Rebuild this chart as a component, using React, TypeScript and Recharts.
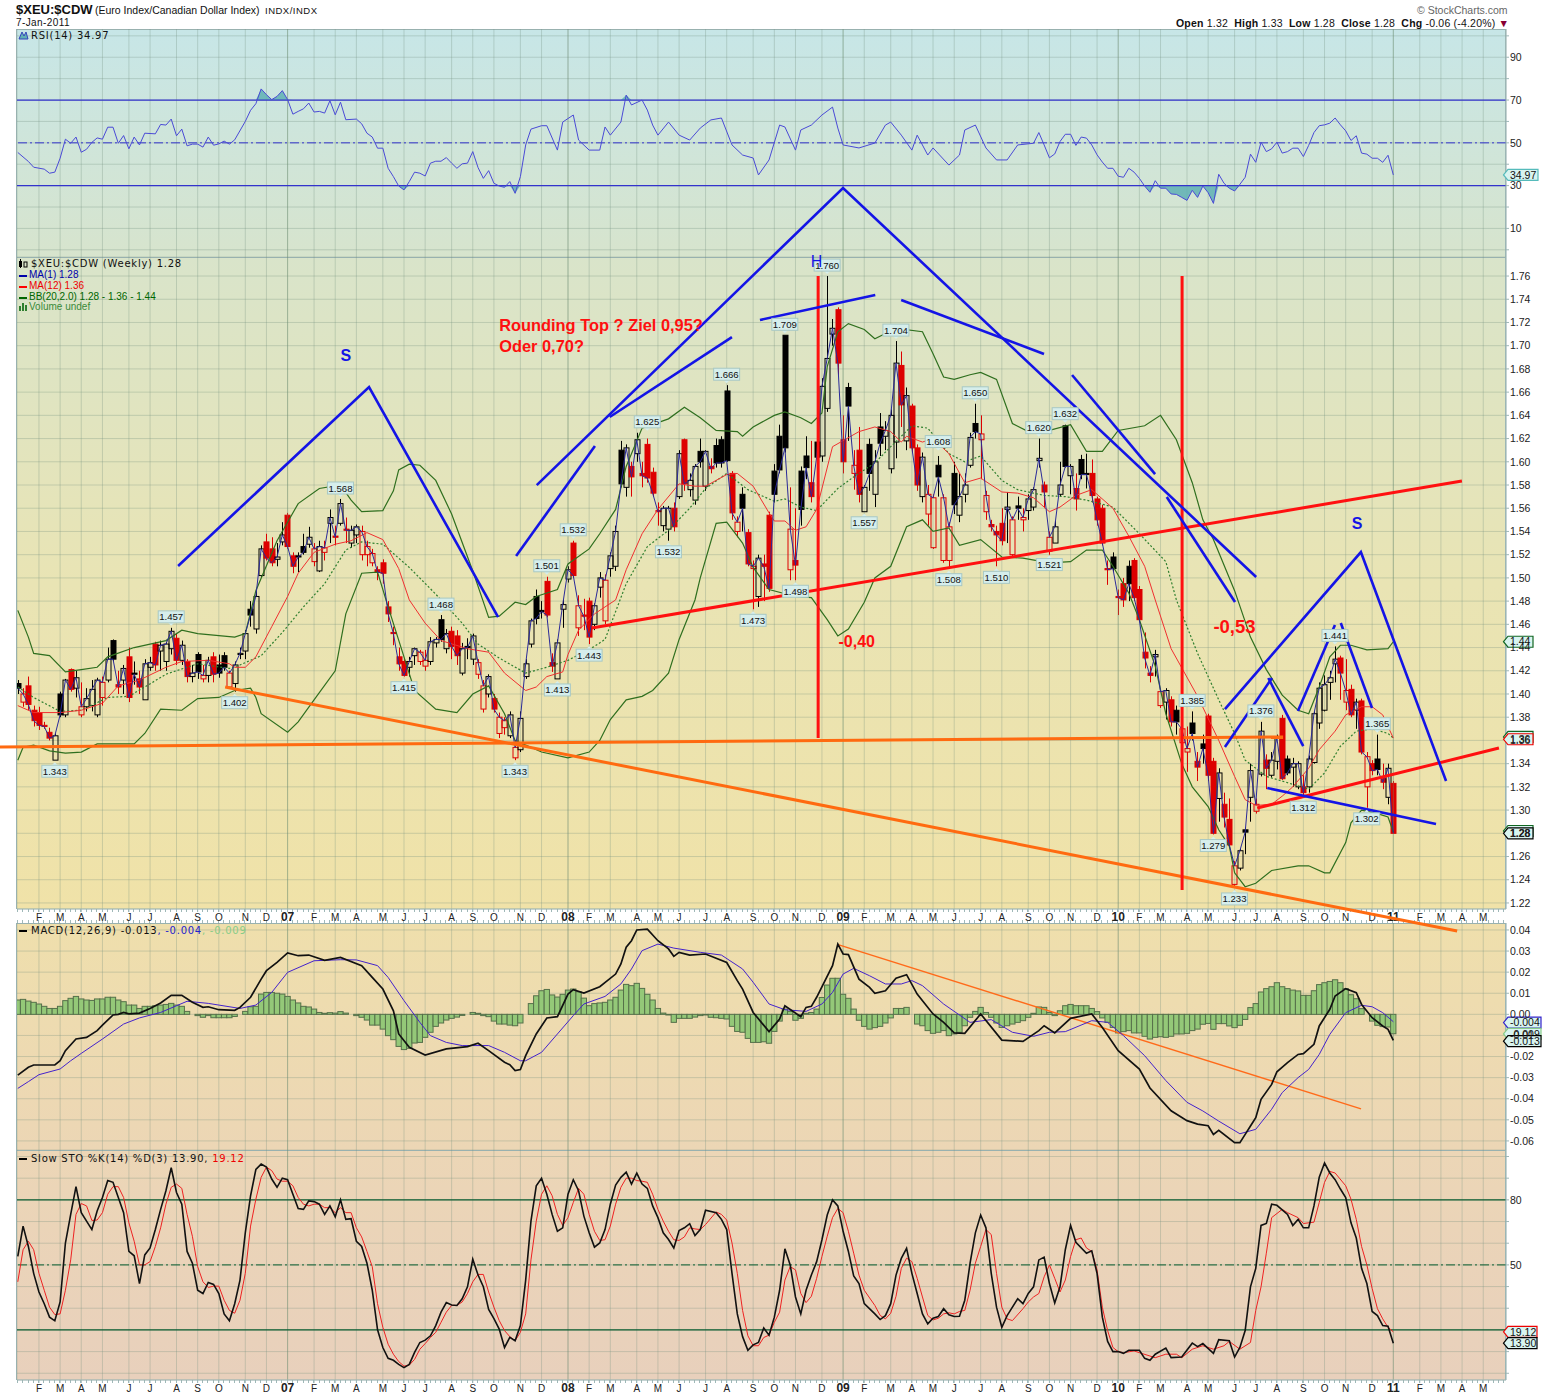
import React from 'react';
import {
  ComposedChart,
  Bar,
  Line,
  Area,
  XAxis,
  YAxis,
  CartesianGrid,
  ReferenceLine,
  ReferenceDot,
} from 'recharts';

// weekly candles, first week = early Jan 2006, last = 7-Jan-2011
const weekOpen = [
  1.409,1.393,1.407,1.386,1.384,1.373,1.367,1.343,1.400,1.382,
  1.421,1.405,1.382,1.389,1.39,1.382,1.397,1.412,1.446,1.408,
  1.412,1.432,1.418,1.413,1.395,1.423,1.443,1.437,1.428,1.439,
  1.448,1.429,1.428,1.415,1.434,1.413,1.416,1.432,1.425,1.433,
  1.406,1.409,1.434,1.437,1.473,1.456,1.502,1.531,1.525,1.516,
  1.531,1.554,1.519,1.519,1.527,1.529,1.514,1.506,1.522,1.547,
  1.536,1.547,1.542,1.53,1.537,1.52,1.52,1.513,1.507,1.513,
  1.475,1.453,1.432,1.428,1.423,1.433,1.428,1.424,1.428,1.444,
  1.464,1.439,1.454,1.45,1.418,1.441,1.43,1.417,1.387,1.40,
  1.396,1.366,1.371,1.364,1.345,1.352,1.415,1.443,1.484,1.472,
  1.497,1.427,1.413,1.473,1.499,1.53,1.457,1.468,1.48,1.46,
  1.492,1.463,1.508,1.51,1.61,1.578,1.596,1.607,1.59,1.615,
  1.591,1.558,1.545,1.542,1.56,1.57,1.619,1.576,1.567,1.609,
  1.579,1.596,1.614,1.619,1.661,1.59,1.54,1.572,1.539,1.508,
  1.484,1.512,1.554,1.592,1.622,1.709,1.507,1.515,1.592,1.605,
  1.582,1.617,1.605,1.646,1.71,1.731,1.619,1.664,1.59,1.61,
  1.557,1.615,1.572,1.63,1.622,1.594,1.617,1.683,1.618,1.648,
  1.612,1.57,1.555,1.526,1.597,1.515,1.515,1.59,1.554,1.572,
  1.597,1.633,1.619,1.557,1.546,1.54,1.547,1.559,1.52,1.562,
  1.55,1.558,1.561,1.601,1.58,1.523,1.53,1.572,1.631,1.588,
  1.577,1.602,1.59,1.59,1.568,1.56,1.508,1.518,1.484,1.495,
  1.51,1.515,1.49,1.436,1.418,1.432,1.39,1.393,1.395,1.386,
  1.358,1.35,1.375,1.342,1.357,1.381,1.342,1.31,1.305,1.292,
  1.236,1.25,1.283,1.311,1.299,1.331,1.343,1.33,1.342,1.379,
  1.344,1.337,1.32,1.32,1.32,1.341,1.375,1.386,1.41,1.426,
  1.431,1.393,1.404,1.386,1.394,1.32,1.34,1.344,1.327,1.311,1.323,
];
const weekHigh = [
  1.412,1.405,1.415,1.39,1.389,1.376,1.371,1.366,1.402,1.413,
  1.422,1.42,1.41,1.405,1.412,1.414,1.415,1.44,1.447,1.42,
  1.425,1.44,1.428,1.42,1.43,1.432,1.445,1.446,1.445,1.457,
  1.452,1.446,1.43,1.425,1.436,1.425,1.432,1.436,1.434,1.436,
  1.42,1.428,1.44,1.455,1.48,1.49,1.528,1.538,1.535,1.53,
  1.548,1.556,1.522,1.522,1.538,1.544,1.53,1.532,1.532,1.559,
  1.545,1.568,1.552,1.545,1.546,1.545,1.532,1.525,1.51,1.516,
  1.48,1.458,1.44,1.43,1.432,1.44,1.438,1.438,1.449,1.449,
  1.468,1.456,1.458,1.455,1.444,1.448,1.452,1.43,1.412,1.417,
  1.40,1.384,1.38,1.385,1.36,1.385,1.43,1.465,1.49,1.48,
  1.501,1.435,1.447,1.481,1.51,1.532,1.485,1.482,1.483,1.478,
  1.505,1.503,1.522,1.545,1.618,1.615,1.60,1.625,1.60,1.62,
  1.595,1.565,1.562,1.562,1.565,1.61,1.62,1.59,1.598,1.62,
  1.61,1.603,1.62,1.622,1.666,1.592,1.553,1.578,1.542,1.515,
  1.52,1.52,1.557,1.598,1.632,1.709,1.578,1.56,1.596,1.622,
  1.618,1.618,1.672,1.76,1.723,1.733,1.64,1.668,1.61,1.63,
  1.58,1.62,1.61,1.642,1.635,1.645,1.704,1.695,1.664,1.65,
  1.615,1.608,1.58,1.572,1.605,1.572,1.548,1.60,1.59,1.59,
  1.625,1.65,1.64,1.575,1.55,1.545,1.56,1.574,1.553,1.57,
  1.56,1.572,1.578,1.62,1.583,1.54,1.549,1.60,1.632,1.598,
  1.59,1.606,1.607,1.602,1.57,1.563,1.515,1.522,1.49,1.50,
  1.515,1.517,1.493,1.453,1.424,1.438,1.405,1.405,1.398,1.39,
  1.375,1.372,1.385,1.35,1.365,1.383,1.345,1.336,1.315,1.31,
  1.256,1.267,1.285,1.34,1.31,1.376,1.348,1.35,1.365,1.382,
  1.347,1.345,1.342,1.33,1.347,1.385,1.41,1.416,1.42,1.441,
  1.433,1.43,1.408,1.396,1.396,1.35,1.343,1.365,1.34,1.34,1.325,
];
const weekLow = [
  1.40,1.389,1.386,1.372,1.369,1.37,1.36,1.343,1.38,1.38,
  1.402,1.397,1.38,1.385,1.385,1.38,1.39,1.41,1.428,1.40,
  1.40,1.393,1.408,1.40,1.395,1.42,1.42,1.42,1.42,1.434,
  1.425,1.425,1.41,1.41,1.413,1.41,1.41,1.41,1.414,1.42,
  1.405,1.402,1.43,1.43,1.458,1.452,1.50,1.515,1.51,1.51,
  1.528,1.525,1.504,1.505,1.52,1.526,1.51,1.505,1.515,1.53,
  1.528,1.545,1.53,1.526,1.53,1.515,1.51,1.51,1.498,1.495,
  1.462,1.442,1.42,1.415,1.415,1.425,1.425,1.42,1.425,1.44,
  1.445,1.435,1.43,1.425,1.416,1.43,1.425,1.413,1.384,1.397,
  1.384,1.362,1.365,1.362,1.343,1.35,1.413,1.44,1.46,1.465,
  1.466,1.419,1.413,1.457,1.496,1.50,1.45,1.455,1.443,1.455,
  1.483,1.46,1.501,1.506,1.578,1.57,1.57,1.60,1.578,1.582,
  1.57,1.545,1.54,1.532,1.54,1.568,1.575,1.57,1.563,1.595,
  1.575,1.59,1.595,1.595,1.60,1.55,1.535,1.54,1.51,1.473,
  1.475,1.48,1.488,1.565,1.59,1.608,1.498,1.498,1.545,1.585,
  1.565,1.60,1.60,1.643,1.70,1.675,1.59,1.618,1.576,1.565,
  1.557,1.575,1.561,1.605,1.61,1.59,1.603,1.63,1.61,1.608,
  1.575,1.565,1.545,1.525,1.57,1.513,1.508,1.555,1.548,1.565,
  1.595,1.62,1.585,1.55,1.54,1.51,1.528,1.53,1.518,1.55,
  1.54,1.55,1.558,1.595,1.56,1.52,1.53,1.57,1.595,1.572,
  1.558,1.585,1.577,1.565,1.545,1.528,1.494,1.505,1.468,1.475,
  1.48,1.48,1.462,1.422,1.41,1.415,1.388,1.378,1.372,1.365,
  1.355,1.333,1.36,1.325,1.34,1.325,1.279,1.29,1.285,1.268,
  1.233,1.248,1.262,1.29,1.297,1.329,1.318,1.328,1.335,1.326,
  1.33,1.32,1.318,1.312,1.315,1.34,1.37,1.385,1.395,1.41,
  1.395,1.386,1.38,1.37,1.348,1.302,1.33,1.33,1.318,1.305,1.28,
];
const weekClose = [
  1.405,1.40,1.391,1.377,1.373,1.372,1.362,1.364,1.382,1.412,
  1.404,1.414,1.389,1.396,1.404,1.412,1.41,1.43,1.43,1.406,
  1.422,1.397,1.417,1.406,1.426,1.427,1.425,1.442,1.443,1.454,
  1.429,1.442,1.415,1.418,1.419,1.416,1.429,1.417,1.418,1.423,
  1.418,1.425,1.435,1.452,1.468,1.484,1.525,1.517,1.513,1.518,
  1.537,1.527,1.51,1.518,1.522,1.535,1.525,1.527,1.526,1.552,
  1.535,1.564,1.541,1.541,1.544,1.54,1.527,1.521,1.505,1.504,
  1.469,1.452,1.426,1.416,1.428,1.439,1.436,1.429,1.445,1.447,
  1.447,1.452,1.441,1.433,1.439,1.44,1.45,1.427,1.407,1.415,
  1.387,1.38,1.377,1.382,1.354,1.379,1.426,1.463,1.465,1.471,
  1.468,1.424,1.444,1.477,1.507,1.502,1.476,1.467,1.449,1.476,
  1.50,1.498,1.519,1.54,1.581,1.612,1.587,1.619,1.588,1.586,
  1.573,1.557,1.56,1.56,1.544,1.607,1.581,1.584,1.596,1.60,
  1.609,1.594,1.599,1.599,1.601,1.556,1.548,1.56,1.512,1.51,
  1.517,1.51,1.491,1.572,1.593,1.612,1.542,1.511,1.559,1.595,
  1.57,1.604,1.665,1.689,1.715,1.685,1.60,1.648,1.597,1.572,
  1.578,1.59,1.60,1.616,1.627,1.64,1.685,1.649,1.657,1.612,
  1.58,1.604,1.572,1.569,1.587,1.569,1.544,1.563,1.57,1.58,
  1.621,1.626,1.624,1.571,1.544,1.537,1.532,1.561,1.55,1.56,
  1.552,1.568,1.576,1.603,1.574,1.535,1.544,1.58,1.596,1.596,
  1.568,1.589,1.589,1.571,1.55,1.53,1.507,1.508,1.483,1.481,
  1.495,1.483,1.464,1.431,1.416,1.434,1.402,1.403,1.376,1.376,
  1.37,1.353,1.366,1.337,1.353,1.33,1.28,1.332,1.294,1.27,
  1.252,1.265,1.281,1.334,1.305,1.368,1.336,1.343,1.362,1.327,
  1.332,1.34,1.34,1.315,1.344,1.383,1.405,1.408,1.414,1.43,
  1.418,1.403,1.382,1.393,1.35,1.346,1.334,1.335,1.324,1.336,1.28,
];

// [week, value]
const ma12 = [[0,1.39],[3,1.384],[8,1.384],[12,1.386],[16,1.392],[19,1.407],[23,1.412],[28,1.423],[31,1.428],[36,1.429],[40,1.426],[41,1.423],[43,1.423],[45,1.432],[48,1.458],[51,1.484],[53,1.504],[56,1.522],[60,1.529],[63,1.532],[66,1.539],[69,1.533],[72,1.508],[74,1.481],[77,1.461],[80,1.446],[85,1.439],[89,1.436],[92,1.418],[96,1.403],[98,1.406],[100,1.415],[103,1.419],[104,1.434],[106,1.455],[109,1.469],[113,1.481],[115,1.507],[118,1.538],[121,1.559],[125,1.581],[128,1.579],[130,1.579],[134,1.589],[136,1.59],[139,1.579],[142,1.556],[143,1.549],[145,1.549],[147,1.541],[149,1.544],[151,1.559],[154,1.613],[159,1.626],[162,1.63],[165,1.626],[167,1.617],[168,1.622],[171,1.617],[173,1.62],[176,1.607],[179,1.582],[182,1.586],[186,1.574],[189,1.573],[192,1.569],[195,1.557],[197,1.561],[200,1.571],[203,1.576],[207,1.56],[210,1.536],[213,1.51],[215,1.481],[218,1.439],[223,1.398],[227,1.36],[230,1.329],[232,1.309],[234,1.304],[237,1.305],[239,1.312],[241,1.32],[244,1.336],[246,1.352],[249,1.368],[251,1.382],[254,1.389],[256,1.389],[258,1.382],[260,1.362]];
const bbMid = [[0,1.406],[3,1.397],[8,1.385],[12,1.386],[17,1.397],[21,1.398],[24,1.406],[28,1.417],[32,1.423],[34,1.426],[40,1.422],[42,1.425],[46,1.433],[50,1.453],[54,1.475],[58,1.495],[62,1.524],[65,1.531],[69,1.529],[74,1.509],[79,1.486],[84,1.461],[87,1.443],[91,1.431],[96,1.418],[100,1.423],[104,1.429],[109,1.441],[111,1.447],[115,1.495],[119,1.527],[123,1.541],[127,1.56],[130,1.577],[134,1.59],[138,1.576],[143,1.566],[145,1.568],[148,1.561],[151,1.558],[155,1.577],[158,1.587],[162,1.599],[165,1.613],[169,1.631],[172,1.629],[176,1.607],[179,1.6],[182,1.605],[186,1.584],[189,1.576],[194,1.571],[198,1.57],[202,1.567],[207,1.561],[212,1.538],[217,1.514],[219,1.481],[223,1.435],[227,1.395],[230,1.366],[232,1.343],[236,1.329],[239,1.325],[244,1.318],[247,1.332],[250,1.355],[253,1.368],[256,1.37],[259,1.366],[260,1.362]];
const bbUpper = [[0,1.472],[2,1.449],[3,1.435],[6,1.433],[9,1.419],[12,1.421],[15,1.423],[17,1.432],[22,1.44],[25,1.443],[28,1.446],[31,1.455],[34,1.452],[41,1.449],[43,1.452],[45,1.489],[49,1.532],[53,1.564],[57,1.577],[61,1.58],[63,1.567],[65,1.557],[69,1.558],[71,1.575],[72,1.593],[74,1.598],[76,1.597],[79,1.584],[82,1.555],[86,1.506],[89,1.466],[91,1.467],[94,1.479],[96,1.477],[98,1.484],[102,1.49],[104,1.512],[108,1.525],[110,1.538],[113,1.559],[115,1.596],[118,1.629],[123,1.637],[126,1.647],[129,1.638],[132,1.627],[136,1.626],[137,1.622],[139,1.63],[143,1.64],[145,1.643],[148,1.638],[150,1.633],[152,1.642],[153,1.682],[155,1.712],[157,1.719],[160,1.714],[162,1.706],[166,1.715],[171,1.712],[173,1.693],[175,1.673],[177,1.671],[180,1.675],[182,1.677],[185,1.671],[188,1.633],[191,1.626],[195,1.627],[199,1.632],[202,1.609],[205,1.609],[208,1.627],[213,1.631],[216,1.64],[219,1.619],[222,1.582],[224,1.55],[226,1.533],[230,1.489],[233,1.449],[236,1.421],[239,1.399],[242,1.386],[244,1.383],[246,1.406],[248,1.432],[250,1.442],[252,1.442],[255,1.438],[259,1.439],[260,1.445]];
const bbLower = [[0,1.343],[1,1.354],[3,1.356],[6,1.351],[9,1.349],[12,1.35],[15,1.357],[22,1.357],[24,1.366],[27,1.387],[31,1.386],[34,1.396],[38,1.397],[41,1.403],[44,1.405],[45,1.397],[46,1.383],[51,1.367],[53,1.376],[56,1.395],[60,1.42],[62,1.469],[65,1.504],[68,1.505],[70,1.475],[73,1.432],[75,1.403],[79,1.387],[83,1.384],[86,1.4],[89,1.407],[92,1.383],[94,1.36],[96,1.356],[99,1.35],[104,1.345],[108,1.35],[110,1.36],[112,1.378],[115,1.395],[118,1.398],[120,1.403],[123,1.418],[125,1.447],[128,1.481],[129,1.5],[132,1.547],[134,1.548],[137,1.53],[139,1.509],[142,1.49],[147,1.484],[150,1.483],[153,1.464],[155,1.45],[157,1.456],[160,1.479],[162,1.5],[165,1.51],[168,1.544],[171,1.55],[173,1.54],[176,1.543],[178,1.528],[182,1.533],[186,1.518],[190,1.517],[195,1.513],[199,1.514],[202,1.524],[205,1.524],[207,1.51],[210,1.487],[212,1.464],[215,1.424],[217,1.383],[220,1.34],[222,1.32],[225,1.303],[227,1.283],[229,1.269],[230,1.246],[232,1.234],[234,1.237],[237,1.248],[242,1.252],[244,1.252],[247,1.246],[248,1.246],[251,1.272],[252,1.289],[254,1.30],[257,1.297],[259,1.294],[260,1.281]];

const rsiPoints = [[0,45.5],[2,41.3],[3,38.6],[5,37.7],[6,35.8],[7,36.3],[8,42.8],[9,51.7],[10,49.8],[11,52.7],[12,45.6],[13,47],[14,50.2],[15,52.3],[16,51.7],[17,57.3],[18,57.3],[19,49.8],[20,53.4],[21,47.2],[22,52.7],[23,49],[24,54.5],[26,54.2],[27,58.6],[28,58.3],[29,61.1],[30,53.3],[31,56.4],[32,48.6],[33,49.4],[34,49.4],[35,48],[36,52.7],[37,48.9],[38,49.5],[39,50.8],[40,49.4],[41,51.4],[43,60],[44,65.2],[45,68.3],[46,75.2],[47,72.5],[48,70.2],[49,71.7],[50,74.4],[51,70.2],[52,63.4],[53,64.7],[54,65.9],[55,68.6],[56,64.4],[57,64.7],[58,63.9],[59,69.7],[60,63.1],[61,69],[62,60.8],[64,61.1],[65,58.9],[66,54.5],[67,52.7],[68,47.5],[69,47.5],[70,38.1],[71,34.2],[72,29.8],[73,28],[74,31.9],[75,36.3],[76,35.8],[77,34.5],[78,40.5],[79,41.4],[80,41.4],[81,43.1],[82,40.5],[83,38.1],[84,40.2],[85,40.5],[86,45.9],[87,38.4],[88,33.4],[89,37],[90,31.1],[91,29.8],[92,29.2],[93,31.9],[94,26.4],[95,34.2],[96,49],[97,56.4],[99,58],[100,58],[102,46.6],[103,59.7],[105,63],[106,51.3],[108,46.6],[110,46.6],[111,57.4],[112,53.6],[114,59.7],[115,72.3],[116,67.7],[118,70],[119,65.3],[120,58.3],[121,53.6],[123,59.7],[125,53.6],[127,51.3],[129,56.9],[131,60.7],[133,61.6],[135,49],[137,44.3],[139,42.9],[140,35],[142,42],[144,58.3],[145,57.4],[147,46.6],[148,56],[150,58.3],[152,63],[154,66.7],[155,56.9],[156,49],[159,47.6],[162,49.9],[164,58.3],[165,59.7],[167,53.6],[169,46.6],[170,53.6],[172,44.3],[173,47.6],[176,39.6],[178,44.3],[179,56],[181,58.3],[183,47.6],[185,42],[187,42],[189,49],[192,49.8],[193,54.8],[194,49],[195,43],[196,44.8],[197,50.6],[198,54],[199,54],[200,48.8],[201,52.7],[202,52.2],[203,49],[204,44.4],[205,41],[206,38.1],[207,38.1],[208,34.4],[209,33.9],[210,38.1],[211,36.3],[212,33.4],[213,29.8],[214,26.9],[215,32.3],[216,28.8],[217,28.8],[218,26.1],[219,25.9],[220,24.5],[221,23.1],[222,27.8],[223,24.5],[224,29.8],[225,26.7],[226,21.7],[227,35.3],[228,31.1],[229,28.8],[230,27.5],[231,30.6],[232,33.9],[233,44.7],[234,40.9],[235,50.3],[236,45.9],[237,47.2],[238,50.3],[239,45.2],[240,45.9],[241,47.5],[242,47.5],[243,43.6],[244,48.8],[245,54.8],[246,58],[247,58.4],[248,59.2],[249,61.6],[250,58.4],[251,55.6],[252,51.1],[253,53.3],[254,45.2],[255,44.7],[256,42.8],[257,42.8],[258,40.9],[259,44.2],[260,35]];

const macdLine = [[0,-.0288],[2,-.0251],[3,-.024],[7,-.024],[8,-.022],[9,-.0172],[11,-.0117],[13,-.0109],[15,-.0077],[16,-.0051],[18,-.0003],[19,0],[20,.0009],[21,.0002],[23,.0006],[25,.0028],[27,.0054],[29,.009],[31,.009],[33,.0057],[35,.0033],[36,.0036],[38,.0022],[41,.0019],[42,.0033],[44,.0081],[46,.0167],[47,.0207],[49,.0246],[51,.0291],[53,.0278],[55,.0281],[58,.0256],[61,.027],[65,.0231],[67,.0175],[69,.012],[71,.0017],[72,-.0093],[74,-.0156],[77,-.0193],[81,-.0164],[85,-.0153],[87,-.0137],[89,-.0172],[92,-.0227],[93,-.0239],[94,-.0267],[95,-.0262],[96,-.0196],[98,-.0093],[100,-.0017],[102,-.0011],[104,.0096],[105,.0117],[107,.0101],[110,.0131],[113,.0191],[114,.0239],[115,.0318],[116,.0349],[117,.04],[119,.0404],[121,.0349],[123,.031],[124,.0275],[125,.0294],[127,.0281],[130,.0286],[134,.0246],[136,.016],[137,.012],[139,.0009],[142,-.0082],[144,-.0022],[145,.0041],[148,-.0011],[149,.0033],[150,.0038],[151,.0081],[154,.0231],[155,.0333],[156,.0286],[157,.0283],[159,.0167],[161,.0128],[162,.01],[164,.0112],[166,.0171],[168,.0188],[170,.0096],[173,.0002],[175,-.0038],[177,-.0088],[179,-.009],[182,.0002],[186,-.0122],[190,-.0128],[193,-.0077],[194,-.0054],[196,-.0088],[199,-.0019],[203,.0002],[205,-.0062],[208,-.0172],[212,-.0259],[214,-.0349],[218,-.0457],[221,-.0504],[223,-.052],[225,-.0528],[226,-.0569],[227,-.055],[230,-.0608],[231,-.0608],[232,-.0569],[233,-.0529],[234,-.049],[235,-.0403],[237,-.0332],[238,-.0272],[240,-.0229],[242,-.019],[243,-.0186],[245,-.0142],[246,-.0055],[248,.0024],[249,.0087],[251,.0122],[253,.0103],[254,.0047],[256,-.0016],[258,-.0055],[259,-.0071],[260,-.0123]];
const macdSignal = [[0,-.0351],[2,-.0319],[4,-.0286],[8,-.0259],[10,-.022],[12,-.0185],[16,-.0117],[20,-.0046],[23,-.0017],[27,.0009],[32,.0062],[36,.0052],[42,.0028],[45,.0044],[48,.0104],[51,.0199],[56,.0254],[61,.0259],[64,.0258],[68,.0231],[70,.0175],[73,.0065],[76,-.0038],[78,-.0101],[81,-.0133],[84,-.0148],[89,-.0148],[92,-.018],[95,-.022],[96,-.022],[99,-.018],[102,-.0093],[105,-.0006],[107,.0049],[111,.0085],[114,.0144],[116,.0215],[118,.0302],[121,.0333],[124,.0314],[129,.0294],[133,.0281],[137,.0215],[139,.0152],[142,.0049],[145,.0022],[149,.0014],[152,.0049],[154,.0104],[156,.0191],[158,.0218],[161,.0183],[164,.0144],[167,.0144],[169,.016],[171,.0136],[175,.0049],[180,-.0038],[184,-.0025],[188,-.0085],[192,-.0104],[195,-.0085],[198,-.0082],[203,-.003],[206,-.0038],[209,-.0101],[213,-.0196],[217,-.0314],[221,-.0417],[224,-.0458],[227,-.0506],[231,-.0566],[234,-.0545],[237,-.045],[239,-.0371],[242,-.03],[244,-.0261],[246,-.019],[248,-.0095],[251,.0008],[254,.0043],[256,.0036],[258,.0008],[260,-.0035]];
// histogram, thousandths, one per week
const macdHist = [
  6.8,7.1,6.3,5.7,4.9,3.8,2.8,2.8,3.8,6.5,
  7.6,8.5,7.3,6.8,6.6,7.3,7.3,8.1,8.1,6.8,
  6,4.4,4.4,2.8,3.8,3.8,4.1,4.4,4.7,5.2,
  4.4,3.8,1.4,0,-.6,-1.4,-.6,-1.6,-1.6,-1.6,
  -1.6,-1,0,1.4,3.6,3.8,9.6,10.4,10.4,10,
  9.6,8.5,6.8,5.4,3.8,3.5,2.5,.9,.5,.8,
  .6,1.3,.6,0,-.6,-1.4,-2.7,-5.1,-5.1,-7,
  -10.1,-12,-15.2,-16.7,-16.1,-13.6,-13.3,-10.9,-8.5,-5.7,
  -4.1,-2.7,-1.9,-1.3,-.5,0,.9,.5,-.6,-1.1,
  -3.2,-4.6,-4.6,-5.1,-5.4,-4.1,0,5.1,8.8,11.2,
  11.8,9.2,8.2,9.5,11.5,12,10.7,7.7,4.1,5.1,
  5.4,5.7,6.8,8.1,11.5,14.2,13.6,14.7,12.3,9.5,
  6.8,2.8,.6,-.3,-3.8,-1.9,-1.9,-1.9,-1.3,-.6,
  -.3,-1.4,-1.6,-1.9,-2.2,-5.7,-8.1,-8.5,-11.4,-13.3,
  -13.3,-13,-13.7,-8.1,-3.2,2.5,1.4,-2.8,-1.9,.5,
  .9,2.5,8,13.9,17.1,17.1,9.5,7.6,2.5,-2.8,
  -5.7,-7,-6.3,-5.7,-4.1,-1.7,2.8,2.8,3.3,0,
  -4.6,-5.4,-7.7,-9,-8.5,-7.7,-10.1,-9.3,-8.5,-5.4,
  -1.4,1.4,3.3,.9,-1.4,-4.1,-6.2,-5.4,-4.6,-3.8,
  -3,-1.4,.5,3.5,3.3,.9,-.6,1.7,4.1,4.7,
  4.1,4.1,4.1,2.8,1.3,-1.7,-3.8,-6.2,-8.8,-8.2,
  -7.7,-8.8,-8.8,-10.4,-11.7,-10.9,-10.6,-10.9,-10.4,-9.3,
  -9.3,-9,-7.7,-7,-4.7,-4.3,-7.1,-4.4,-4.4,-5.5,
  -6.3,-5.2,-2.4,3.2,5.1,10.6,12.2,13.1,15,13.1,
  12.2,11.5,11.1,9,9,11.2,14.1,15,15.6,16.4,
  15,12.2,9.3,7.4,2.7,0,-3.2,-5.2,-5.8,-6,-9.2,
];

const stoK = [[0,53.9],[1,67.9],[2,58.5],[3,46.1],[4,37.5],[5,32.1],[6,25.9],[7,24.2],[8,32.9],[9,60.1],[10,73.3],[11,86.1],[12,74.1],[14,66.3],[15,74.9],[16,81.1],[17,88.9],[18,88.1],[19,81.1],[20,74.1],[21,56.2],[22,54.2],[23,41.4],[24,54.6],[25,57.8],[26,66.3],[27,75.6],[28,84.2],[29,94.8],[30,83.4],[31,78],[32,56.2],[33,50.8],[34,38.3],[35,36.8],[36,41.9],[37,41],[38,36.8],[39,27.4],[40,24.2],[41,32.1],[42,43],[43,64.8],[44,81.9],[45,94],[46,96.5],[47,95.1],[48,89.6],[49,85.8],[50,90],[51,89.3],[52,82.6],[53,76],[54,75.6],[55,79.5],[56,79.2],[57,78],[58,73.3],[59,77.2],[60,72.2],[61,80],[62,71],[63,71.3],[64,60.9],[65,58.5],[66,50.8],[67,38.3],[68,20.1],[69,11.9],[70,6.9],[71,6],[72,4.1],[73,2.6],[74,4.1],[75,9.6],[76,14.2],[77,15.3],[78,17.3],[79,22],[80,28.2],[81,32.6],[82,31.5],[83,31.3],[84,34.4],[85,39.9],[86,52.6],[87,45.3],[88,39.9],[89,29.5],[90,25.2],[91,20.4],[92,11.9],[93,16.6],[94,15],[95,22],[96,43],[97,70.2],[98,86.5],[99,90],[100,82.6],[101,73.3],[102,65.5],[103,67.1],[104,82.6],[105,89.3],[106,84.2],[107,72.5],[108,64.8],[109,58.2],[110,60.1],[111,66.3],[112,78],[113,86.8],[114,90.4],[115,92.8],[116,87.3],[117,92.3],[118,87.3],[119,85.3],[120,77.2],[121,71.8],[122,64.8],[123,61.7],[124,57.8],[125,65.8],[126,67.1],[127,69],[128,63.5],[129,66.3],[130,75.2],[132,74.1],[133,71],[134,66.3],[135,46.1],[136,27.4],[137,16.9],[138,10.6],[139,13.1],[140,14.2],[141,20.9],[142,17.6],[143,25.9],[144,38.3],[145,57.4],[146,50],[147,35.2],[148,27.4],[149,38.3],[150,45.3],[151,51.5],[152,61.6],[153,73],[154,80],[155,77.2],[156,65.5],[157,56.2],[158,44.9],[159,41.4],[160,32.1],[162,27.4],[163,24.8],[164,26.6],[165,32.1],[166,45.3],[167,53],[168,57.6],[169,46.1],[170,36.8],[171,27.4],[172,22.8],[173,25.4],[174,26.2],[175,29.8],[176,27],[177,26.2],[178,26.3],[179,33.7],[180,50.8],[181,64.8],[182,73],[183,67.1],[184,46.1],[185,30.5],[186,21.2],[187,26.6],[189,34.4],[190,32.1],[191,36.8],[192,39.9],[193,52.3],[194,53.6],[195,41.4],[196,32.4],[197,39.9],[198,57],[199,68.2],[200,60.4],[202,55.4],[203,56.5],[204,46.1],[205,25.9],[206,14.7],[207,10],[208,10],[209,9.2],[210,10.6],[212,10.6],[213,6.9],[214,6],[215,8.8],[217,11.6],[218,7.2],[220,7.5],[222,13.9],[223,12.3],[224,13.7],[226,9.2],[227,15.5],[229,15],[230,7.5],[231,11.9],[232,19.7],[233,39.9],[234,48.4],[235,68.2],[236,69.1],[237,78],[238,77.5],[240,73.3],[241,68.2],[242,71],[243,67.1],[244,67.1],[245,77.2],[246,90.4],[247,97],[248,92.4],[249,89.3],[250,85],[251,81.1],[252,69.4],[253,62.4],[254,48.4],[255,41.4],[256,28.5],[257,26.6],[258,22],[259,21.7],[260,13.9]];
const stoD = [[0,42.2],[1,57],[2,60.9],[3,57],[4,46.1],[5,38.3],[6,30.5],[7,27.1],[8,27.4],[9,38.3],[10,52.3],[11,73.3],[12,78.3],[13,77.2],[14,70.5],[15,70.7],[16,74.1],[17,82.6],[18,86.1],[19,86.1],[20,81.1],[21,69.4],[22,60.9],[23,50],[24,50],[25,51.5],[26,58.5],[27,67.1],[28,78],[29,85.8],[30,87.3],[31,85.3],[32,73.3],[33,63.2],[34,49.2],[35,42.2],[36,39.6],[37,40.2],[38,40.2],[39,33.7],[40,29],[41,27.7],[42,33.7],[43,46.1],[44,67.9],[45,80.3],[46,90.4],[47,95.1],[48,93.5],[49,89.6],[50,88.6],[51,88.6],[52,86.5],[53,81.1],[54,78],[55,77.2],[56,78],[57,78],[58,76.4],[59,76.4],[60,74.1],[61,76.4],[62,74.1],[63,74.1],[64,67.1],[65,62.9],[66,56.2],[67,49.2],[68,32.1],[69,21.2],[70,13.4],[71,8.8],[72,5.4],[73,3.3],[74,3.8],[75,6.4],[76,11.1],[77,13.7],[78,16.5],[79,18.9],[80,23.5],[81,28.2],[82,31.3],[83,31.3],[84,32.9],[85,36.8],[86,42.2],[87,45.6],[88,45.6],[89,37.5],[90,30.5],[91,24.3],[92,19.7],[93,16.9],[94,15],[95,18.9],[96,27.4],[97,52.3],[98,70.2],[99,82.6],[100,86.5],[101,81.9],[102,73.3],[103,68.2],[104,71.8],[105,78.8],[106,85.3],[107,82.6],[108,73.3],[109,65.5],[110,61.3],[111,61.6],[112,67.9],[113,78],[114,85.8],[115,90],[116,90],[117,88.9],[118,88.6],[119,88.1],[120,82.6],[121,75.6],[122,70.2],[123,65.5],[124,61.6],[125,61.3],[126,62.9],[127,67.1],[128,66.6],[129,66.3],[130,68.6],[132,74.4],[133,73.3],[134,70.7],[135,60.1],[136,46.1],[137,29],[138,17.3],[139,12.7],[140,12.7],[141,16.5],[142,17.6],[143,23.5],[144,28.2],[145,43],[146,49.2],[147,47.7],[148,36.8],[149,32.6],[150,35.5],[151,43.8],[152,53.9],[153,63.2],[154,71.8],[155,76],[156,74.1],[157,65.5],[158,55.4],[159,45.3],[160,38.3],[162,31.3],[163,26.7],[164,25.1],[165,27.7],[166,35.5],[167,48.4],[168,53.1],[169,51.5],[170,43.8],[171,35.2],[172,26.7],[173,24.6],[174,25.4],[175,27.4],[176,27.9],[177,27.4],[178,28.5],[179,29],[180,38.3],[181,50.8],[182,58.5],[183,66.3],[184,64],[185,46.1],[186,30.5],[187,25.1],[188,24.3],[190,29.8],[191,32.9],[192,35.2],[193,36.8],[194,44.5],[195,50],[196,43.8],[197,37.5],[198,43],[199,53.9],[200,61.6],[201,62.4],[202,57.8],[203,56.2],[204,47.7],[205,30.5],[206,19.7],[207,11.9],[208,10],[209,9.5],[211,10.3],[212,9.5],[215,7.2],[217,8.8],[219,8.8],[220,7.2],[222,11.1],[224,12.7],[226,11.1],[228,12.7],[229,14.7],[231,11.1],[233,14.2],[234,29],[235,39.9],[236,55.4],[237,71.8],[239,75.6],[240,74.1],[242,71.8],[243,69.1],[245,69.7],[246,78.8],[247,88.1],[248,93.1],[249,92.4],[251,86.5],[252,80.3],[253,71],[254,58.5],[255,50],[256,39.1],[257,29.8],[258,25.1],[259,21.2],[260,19.12]];

// hand drawn trend lines, [week, price]
const blueTrends = [
  [[30.3,1.5103],[66.4,1.6644],[90.8,1.4663]],
  [[98.1,1.58],[156,1.8358],[234.1,1.5008]],
  [[94.2,1.5189],[109.1,1.6136]],
  [[111.9,1.6386],[135,1.7075]],
  [[140.3,1.7222],[162.1,1.7437]],
  [[167,1.7394],[194,1.6929]],
  [[199.3,1.6748],[215,1.5895]],
  [[217.2,1.5697],[230.1,1.4793]],
  [[228.2,1.3871],[253.9,1.5223],[270,1.3251]],
  [[228.2,1.3544],[237.1,1.4138]],
  [[236.4,1.4138],[243,1.3552]],
  [[242,1.3854],[249,1.4595]],
  [[250.1,1.4612],[256,1.388]],
  [[236.2,1.3191],[268.1,1.288]],
];
const redTrends = [
  [[108.5,1.4569],[273,1.5835]],
  [[234.3,1.3018],[280,1.3535]],
  [[151.3,1.76],[151.3,1.3621]],
  [[220.1,1.76],[220.1,1.2312]],
];
const orangeTrends = [
  [[-3.36,1.3544],[239.2,1.363]],
  [[39.2,1.406],[272.1,1.1959]],
];
const macdTrend = [[155.2,.0329],[253.9,-.0448]];

// [text, week, price, 1 = above the bar, 0 = below]
const peakLabels: [string, number, number, number][] = [
  ['1.343',7,1.343,0],['1.457',29,1.457,1],['1.402',41,1.402,0],['1.568',61,1.568,1],['1.468',80,1.468,1],
  ['1.415',73,1.415,0],['1.343',94,1.343,0],['1.413',102,1.413,0],['1.443',108,1.443,0],['1.501',100,1.501,1],
  ['1.532',105,1.532,1],['1.625',119,1.625,1],['1.532',123,1.532,0],['1.666',134,1.666,1],['1.473',139,1.473,0],
  ['1.709',145,1.709,1],['1.498',147,1.498,0],['1.760',153,1.76,1],['1.557',160,1.557,0],['1.704',166,1.704,1],
  ['1.608',174,1.608,1],['1.650',181,1.65,1],['1.508',176,1.508,0],['1.510',185,1.51,0],['1.620',193,1.62,1],
  ['1.632',198,1.632,1],['1.521',195,1.521,0],['1.385',222,1.385,1],['1.279',226,1.279,0],['1.376',235,1.376,1],
  ['1.233',230,1.233,0],['1.312',243,1.312,0],['1.441',249,1.441,1],['1.365',257,1.365,1],['1.302',255,1.302,0],
];

const monthTicks = [4,8,12,16,21,25,30,34,38,43,47,51,56,60,64,69,73,77,82,86,90,95,99,104,108,112,117,121,125,130,134,139,143,147,152,156,160,165,169,173,177,182,186,191,195,199,204,208,212,216,221,225,230,234,238,243,247,251,256,260,265,269,273,277];
const monthLabels = ['F','M','A','M','J','J','A','S','O','N','D','07','F','M','A','M','J','J','A','S','O','N','D','08','F','M','A','M','J','J','A','S','O','N','D','09','F','M','A','M','J','J','A','S','O','N','D','10','F','M','A','M','J','J','A','S','O','N','D','11','F','M','A','M'];
const yearTicks = [51,104,156,208,260];

const rsiTicks = [0,10,20,30,40,50,60,70,80,90,100];
const rsiLabelled = [90,70,50,30,10];
const priceTicks = [1.22,1.24,1.26,1.28,1.3,1.32,1.34,1.36,1.38,1.4,1.42,1.44,1.46,1.48,1.5,1.52,1.54,1.56,1.58,1.6,1.62,1.64,1.66,1.68,1.7,1.72,1.74,1.76];
const macdTicks = [-.06,-.05,-.04,-.03,-.02,-.01,0,.01,.02,.03,.04];
const stoTicks = [0,10,20,30,40,50,60,70,80,90,100];
const stoLabelled = [80,50];

const X_DOMAIN: [number, number] = [-0.15, 281.3];
const GRID = '#6f8f7f';
const RED = '#dd0000';
const FONT = '"Liberation Sans", Arial, sans-serif';

const toPoints = (pairs: number[][]) => pairs.map(([w, v]) => ({ w, v }));

const candles = weekClose.map((close, i) => ({
  w: i,
  open: weekOpen[i],
  high: weekHigh[i],
  low: weekLow[i],
  close,
  down: i > 0 && close < weekClose[i - 1],
  range: [weekLow[i], weekHigh[i]],
}));
const histRows = macdHist.map((h, i) => ({ w: i, hist: h / 1000 }));
const rsiOver = rsiPoints.map(([w, v]) => ({ w, v: [70, Math.max(v, 70)] }));
const rsiUnder = rsiPoints.map(([w, v]) => ({ w, v: [Math.min(v, 30), 30] }));

function Candle(props: any) {
  const { x, y, width, height, payload } = props;
  const { open, high, low, close, down } = payload;
  const span = high - low || 0.001;
  const yOf = (p: number) => y + ((high - p) / span) * height;
  const color = down ? RED : '#000';
  const cx = Math.round(x + width / 2) + 0.5;
  const top = yOf(Math.max(open, close));
  const bottom = yOf(Math.min(open, close));
  const hollow = close > open;
  return (
    <g>
      <line x1={cx} x2={cx} y1={y} y2={top} stroke={color} strokeWidth={1} />
      <line x1={cx} x2={cx} y1={bottom} y2={y + height} stroke={color} strokeWidth={1} />
      <rect
        x={cx - 2.5}
        y={top}
        width={5}
        height={Math.max(bottom - top, 1)}
        fill={hollow ? 'none' : color}
        stroke={color}
        strokeWidth={1}
      />
    </g>
  );
}

function HistBar(props: any) {
  const { x, y, width, height } = props;
  const cx = x + width / 2;
  return (
    <rect
      x={cx - 2.65}
      y={Math.min(y, y + height)}
      width={5.3}
      height={Math.abs(height)}
      fill="#94c878"
      stroke="#55704a"
      strokeWidth={1}
    />
  );
}

function MonthTick(props: any) {
  const { x, y, payload } = props;
  const label = monthLabels[monthTicks.indexOf(payload.value)];
  const isYear = /\d/.test(label);
  return (
    <text
      x={x}
      y={y + 7}
      textAnchor="middle"
      fontFamily={FONT}
      fontSize={isYear ? 12 : 10}
      fontWeight={isYear ? 'bold' : 'normal'}
      fill="#222"
    >
      {label}
    </text>
  );
}

const tag = (label: string, color: string, wide: number, bold = false) => (props: any) => {
  const { cx, cy } = props;
  const l = cx + 2;
  return (
    <g>
      <polygon
        points={`${cx - 2.5},${cy} ${l},${cy - 5.5} ${l + wide},${cy - 5.5} ${l + wide},${cy + 5.5} ${l},${cy + 5.5}`}
        fill="#d8f4f0"
        stroke={color}
        strokeWidth={1.2}
      />
      <text x={l + 2} y={cy + 3.7} fontFamily={FONT} fontSize={10.5} fontWeight={bold ? 'bold' : 'normal'} fill="#111">
        {label}
      </text>
    </g>
  );
};

const peakShape = (text: string, above: number) => (props: any) => {
  const { cx, cy } = props;
  const cyBox = above ? cy - 11 : cy + 11;
  const tip = above ? cy - 2 : cy + 2;
  const edge = above ? cyBox + 5 : cyBox - 5;
  return (
    <g>
      <polygon points={`${cx - 4},${edge} ${cx + 4},${edge} ${cx},${tip}`} fill="#d6eeec" />
      <rect x={cx - 13} y={cyBox - 6} width={26} height={12} fill="#d6eeec" stroke="#a8c8c4" strokeWidth={1} />
      <text x={cx} y={cyBox + 3.5} textAnchor="middle" fontFamily={FONT} fontSize={9.6} fill="#111">
        {text}
      </text>
    </g>
  );
};

const noteShape = (text: string, size: number, color: string, bold: boolean, anchor: any) => (props: any) => (
  <text
    x={props.cx}
    y={props.cy + size * 0.36}
    textAnchor={anchor}
    fontFamily={FONT}
    fontSize={size}
    fontWeight={bold ? 'bold' : 'normal'}
    fill={color}
  >
    {text}
  </text>
);

function background(top: number, height: number, from: string, to: string, mid?: string) {
  const stops = mid ? `${from}, ${mid}, ${to}` : `${from}, ${to}`;
  return (
    <div
      style={{
        position: 'absolute',
        left: 16,
        top,
        width: 1490,
        height,
        background: `linear-gradient(${stops})`,
        borderLeft: '1px solid #9fb8b8',
        borderRight: '1px solid #9fb8b8',
        borderTop: '1px solid #9fb8b8',
        boxSizing: 'border-box',
      }}
    />
  );
}

const txt = (left: number, top: number, content: React.ReactNode, style: React.CSSProperties = {}) => (
  <div
    style={{
      position: 'absolute',
      left,
      top,
      whiteSpace: 'nowrap',
      fontFamily: FONT,
      fontSize: 10,
      lineHeight: '12px',
      color: '#111',
      ...style,
    }}
  >
    {content}
  </div>
);

const dash = (left: number, top: number, color: string) => (
  <div style={{ position: 'absolute', left, top, width: 8, height: 2, background: color }} />
);

// weekly tick marks along the date strips
const weekStrip = (top: number) => (
  <div
    style={{
      position: 'absolute',
      left: 17,
      top,
      width: 1489,
      height: 3,
      background: 'repeating-linear-gradient(90deg, #9fb8b8 0 1px, transparent 1px 5.29px)',
    }}
  />
);

const legend: React.CSSProperties = { fontFamily: '"DejaVu Sans"', fontSize: 10, letterSpacing: 0.75 };

const rightAxis = (ticks: number[], domain: [number, number], fmt: (v: number) => string) => (
  <YAxis
    orientation="right"
    width={44}
    type="number"
    domain={domain}
    allowDataOverflow
    ticks={ticks}
    interval={0}
    tickSize={3}
    tickMargin={1}
    tickFormatter={fmt}
    tick={{ fontFamily: FONT, fontSize: 10.5, fill: '#222' }}
    stroke="#9fb8b8"
  />
);

const monthAxis = (show: boolean, height = 14) => (
  <XAxis
    dataKey="w"
    type="number"
    domain={X_DOMAIN}
    allowDataOverflow
    ticks={monthTicks}
    interval={0}
    hide={!show}
    height={height}
    tickSize={3}
    tick={<MonthTick />}
    stroke="#9fb8b8"
  />
);

const yearLines = yearTicks.map((w) => (
  <ReferenceLine key={w} x={w} stroke="#6f8f6f" strokeOpacity={0.4} strokeWidth={1} />
));

const plain = (color: string, width: number, extra: any = {}) => ({
  type: 'linear' as const,
  dataKey: 'v',
  stroke: color,
  strokeWidth: width,
  dot: false,
  activeDot: false,
  isAnimationActive: false,
  ...extra,
});

const chartStyle = (top: number): React.CSSProperties => ({ position: 'absolute', left: 0, top });

export default function App() {
  return (
    <div style={{ position: 'absolute', left: 0, top: 0, width: 1550, height: 1396, background: '#fff', overflow: 'hidden' }}>
      {background(29, 228, '#c7e6e7', '#d7e4cd')}
      {background(257, 652, '#d9e4ca', '#f0e2a8', '#e9e4b4')}
      {background(923, 227, '#efdfac', '#ecd6b5')}
      {background(1150, 230, '#ecd6b6', '#e8d0bc')}
      {weekStrip(909)}
      {weekStrip(920)}
      {weekStrip(1380)}

      {/* RSI */}
      <div style={chartStyle(29)}>
        <ComposedChart width={1550} height={228} data={rsiPoints.map(([w, v]) => ({ w, v }))} margin={{ top: 0, right: 0, bottom: 0, left: 17 }}>
          <CartesianGrid stroke={GRID} strokeOpacity={0.3} />
          {monthAxis(false)}
          {rightAxis(rsiTicks, [-3.36, 103.2], (v) => (rsiLabelled.includes(v) ? String(v) : ''))}
          {yearLines}
          <ReferenceLine y={70} stroke="#3333cc" strokeWidth={1.2} />
          <ReferenceLine y={30} stroke="#3333cc" strokeWidth={1.2} />
          <ReferenceLine y={50} stroke="#3333cc" strokeWidth={1} strokeDasharray="9 3 2 3" />
          <Area data={rsiOver} dataKey="v" type="linear" stroke="none" fill="#5fb0b4" fillOpacity={0.85} isAnimationActive={false} dot={false} activeDot={false} />
          <Area data={rsiUnder} dataKey="v" type="linear" stroke="none" fill="#5fb0b4" fillOpacity={0.85} isAnimationActive={false} dot={false} activeDot={false} />
          <Line {...plain('#4a4ad6', 1)} />
          <ReferenceDot x={281.3} y={35} r={0} ifOverflow="visible" shape={tag('34.97', '#55bbbb', 30)} />
        </ComposedChart>
      </div>

      {/* price */}
      <div style={chartStyle(257)}>
        <ComposedChart width={1550} height={666} data={candles} margin={{ top: 0, right: 0, bottom: 0, left: 17 }}>
          <CartesianGrid stroke={GRID} strokeOpacity={0.3} />
          {monthAxis(true)}
          {rightAxis(priceTicks, [1.2148, 1.7764], (v) => v.toFixed(2))}
          {yearLines}
          <Line data={toPoints(bbUpper)} {...plain('#2f6f1f', 1.2)} />
          <Line data={toPoints(bbLower)} {...plain('#2f6f1f', 1.2)} />
          <Line data={toPoints(bbMid)} {...plain('#2f7f2f', 1.2, { strokeDasharray: '2 2' })} />
          <Bar dataKey="range" barSize={5} shape={<Candle />} isAnimationActive={false} />
          <Line data={toPoints(ma12)} {...plain('#f03030', 1)} />
          <Line dataKey="close" type="linear" stroke="#2a2a99" strokeWidth={1} dot={false} activeDot={false} isAnimationActive={false} />
          <ReferenceDot x={281.3} y={1.445} r={0} ifOverflow="visible" shape={tag('1.44', '#116622', 25)} />
          <ReferenceDot x={281.3} y={1.363} r={0} ifOverflow="visible" shape={tag('', '#116622', 25)} />
          <ReferenceDot x={281.3} y={1.361} r={0} ifOverflow="visible" shape={tag('1.36', '#ee0000', 25)} />
          <ReferenceDot x={281.3} y={1.282} r={0} ifOverflow="visible" shape={tag('', '#116622', 25)} />
          <ReferenceDot x={281.3} y={1.28} r={0} ifOverflow="visible" shape={tag('1.28', '#000', 25, true)} />
        </ComposedChart>
      </div>

      {/* MACD */}
      <div style={chartStyle(923)}>
        <ComposedChart width={1550} height={227} data={histRows} margin={{ top: 0, right: 0, bottom: 0, left: 17 }}>
          <CartesianGrid stroke={GRID} strokeOpacity={0.3} />
          {monthAxis(false)}
          {rightAxis(macdTicks, [-.0643, .0433], (v) => v.toFixed(2))}
          {yearLines}
          <Bar dataKey="hist" barSize={5} shape={<HistBar />} isAnimationActive={false} />
          <Line data={toPoints(macdTrend)} {...plain('#ff6a1a', 1.4)} />
          <Line data={toPoints(macdSignal)} {...plain('#4422cc', 1)} />
          <Line data={toPoints(macdLine)} {...plain('#111', 1.7)} />
          <ReferenceDot x={281.3} y={-.0039} r={0} ifOverflow="visible" shape={tag('-0.004', '#3322cc', 33)} />
          <ReferenceDot x={281.3} y={-.0093} r={0} ifOverflow="visible" shape={tag('-0.009', '#88cc88', 33)} />
          <ReferenceDot x={281.3} y={-.0127} r={0} ifOverflow="visible" shape={tag('-0.013', '#000', 33)} />
        </ComposedChart>
      </div>

      {/* slow stochastics */}
      <div style={chartStyle(1150)}>
        <ComposedChart width={1550} height={246} data={toPoints(stoK)} margin={{ top: 0, right: 0, bottom: 0, left: 17 }}>
          <CartesianGrid stroke={GRID} strokeOpacity={0.3} />
          {monthAxis(true, 16)}
          {rightAxis(stoTicks, [-3.1, 103], (v) => (stoLabelled.includes(v) ? String(v) : ''))}
          {yearLines}
          <ReferenceLine y={80} stroke="#0a5c30" strokeWidth={1.4} />
          <ReferenceLine y={20} stroke="#0a5c30" strokeWidth={1.4} />
          <ReferenceLine y={50} stroke="#0a5c30" strokeWidth={1} strokeDasharray="9 3 2 3" />
          <Line data={toPoints(stoD)} {...plain('#ee2222', 1)} />
          <Line {...plain('#111', 1.6)} />
          <ReferenceDot x={281.3} y={19.12} r={0} ifOverflow="visible" shape={tag('19.12', '#ee0000', 29)} />
          <ReferenceDot x={281.3} y={13.9} r={0} ifOverflow="visible" shape={tag('13.90', '#000', 29)} />
        </ComposedChart>
      </div>

      {/* drawn over everything, axis spans the whole page so lines can leave the price panel */}
      <div style={chartStyle(0)}>
        <ComposedChart width={1550} height={1396} margin={{ top: 0, right: 0, bottom: 0, left: 0 }}>
          <XAxis dataKey="w" type="number" domain={[-3.365, 289.65]} allowDataOverflow hide />
          <YAxis type="number" domain={[0.7954, 1.9978]} allowDataOverflow hide />
          {peakLabels.map(([text, w, p, above], i) => (
            <ReferenceDot key={i} x={w} y={p} r={0} ifOverflow="visible" shape={peakShape(text, above)} />
          ))}
          {orangeTrends.map((t, i) => (
            <Line key={'o' + i} data={toPoints(t)} {...plain('#ff6a10', 3)} />
          ))}
          {redTrends.map((t, i) => (
            <Line key={'r' + i} data={toPoints(t)} {...plain('#ff1010', 3)} />
          ))}
          {blueTrends.map((t, i) => (
            <Line key={'b' + i} data={toPoints(t)} {...plain('#1414e6', 2.6)} />
          ))}
          <ReferenceDot x={62} y={1.692} r={0} ifOverflow="visible" shape={noteShape('S', 16, '#1414e6', true, 'middle')} />
          <ReferenceDot x={253.2} y={1.5473} r={0} ifOverflow="visible" shape={noteShape('S', 16, '#1414e6', true, 'middle')} />
          <ReferenceDot x={151} y={1.773} r={0} ifOverflow="visible" shape={noteShape('H', 16, '#1414e6', false, 'middle')} />
          <ReferenceDot x={91} y={1.7179} r={0} ifOverflow="visible" shape={noteShape('Rounding Top ? Ziel 0,95?', 16.4, '#ff1010', true, 'start')} />
          <ReferenceDot x={91} y={1.6998} r={0} ifOverflow="visible" shape={noteShape('Oder 0,70?', 16.4, '#ff1010', true, 'start')} />
          <ReferenceDot x={158.6} y={1.4457} r={0} ifOverflow="visible" shape={noteShape('-0,40', 16, '#ff1010', true, 'middle')} />
          <ReferenceDot x={230} y={1.4586} r={0} ifOverflow="visible" shape={noteShape('-0,53', 18.5, '#ff1010', true, 'middle')} />
        </ComposedChart>
      </div>

      {/* header */}
      {txt(16, 2, '$XEU:$CDW', { fontSize: 13, fontWeight: 'bold', lineHeight: '16px' })}
      {txt(95, 4, '(Euro Index/Canadian Dollar Index)', { fontSize: 10.5 })}
      {txt(265, 5, 'INDX/INDX', { fontSize: 9.5, letterSpacing: 0.5 })}
      {txt(16, 17, '7-Jan-2011', { letterSpacing: 0.4 })}
      {txt(1417, 4, '© StockCharts.com', { color: '#666', fontSize: 10.5 })}
      {txt(1176, 17, (
        <span>
          <b>Open</b> 1.32&nbsp; <b>High</b> 1.33&nbsp; <b>Low</b> 1.28&nbsp; <b>Close</b> 1.28&nbsp; <b>Chg</b> -0.06 (-4.20%)
          <span style={{ color: '#880033' }}> ▼</span>
        </span>
      ), { fontSize: 10.5, letterSpacing: 0.2 })}

      {/* panel legends */}
      <svg style={{ position: 'absolute', left: 18, top: 30 }} width={11} height={10}>
        <polygon points="1,9 4,2 6,6 8,2 10,9" fill="#5fb0b4" stroke="#3344bb" strokeWidth={1} />
      </svg>
      {txt(31, 30, 'RSI(14) 34.97', legend)}
      <svg style={{ position: 'absolute', left: 18, top: 259 }} width={11} height={10}>
        <rect x={1} y={2} width={3} height={6} fill="#000" />
        <rect x={6} y={3} width={3} height={5} fill="none" stroke="#000" />
        <line x1={2.5} x2={2.5} y1={0} y2={9} stroke="#000" />
      </svg>
      {txt(31, 258, '$XEU:$CDW (Weekly) 1.28', legend)}
      {dash(19, 275, '#0000aa')}
      {txt(29, 269, 'MA(1) 1.28', { color: '#0000aa' })}
      {dash(19, 286, '#ff0000')}
      {txt(29, 280, 'MA(12) 1.36', { color: '#ee0000' })}
      {dash(19, 297, '#006600')}
      {txt(29, 291, 'BB(20,2.0) 1.28 - 1.36 - 1.44', { color: '#006600' })}
      <svg style={{ position: 'absolute', left: 19, top: 303 }} width={9} height={9}>
        <rect x={0} y={3} width={2} height={5} fill="#2f7f2f" />
        <rect x={3} y={0} width={2} height={8} fill="#2f7f2f" />
        <rect x={6} y={2} width={2} height={6} fill="#2f7f2f" />
      </svg>
      {txt(29, 301, 'Volume undef', { color: '#3a8a3a' })}
      {dash(19, 930, '#000')}
      {txt(31, 925, (
        <span>
          MACD(12,26,9) -0.013<span style={{ color: '#2222cc' }}>, -0.004</span>
          <span style={{ color: '#88cc88' }}>, -0.009</span>
        </span>
      ), legend)}
      {dash(19, 1158, '#000')}
      {txt(31, 1153, (
        <span>
          Slow STO %K(14) %D(3) 13.90,<span style={{ color: '#ee0000' }}> 19.12</span>
        </span>
      ), legend)}
    </div>
  );
}
